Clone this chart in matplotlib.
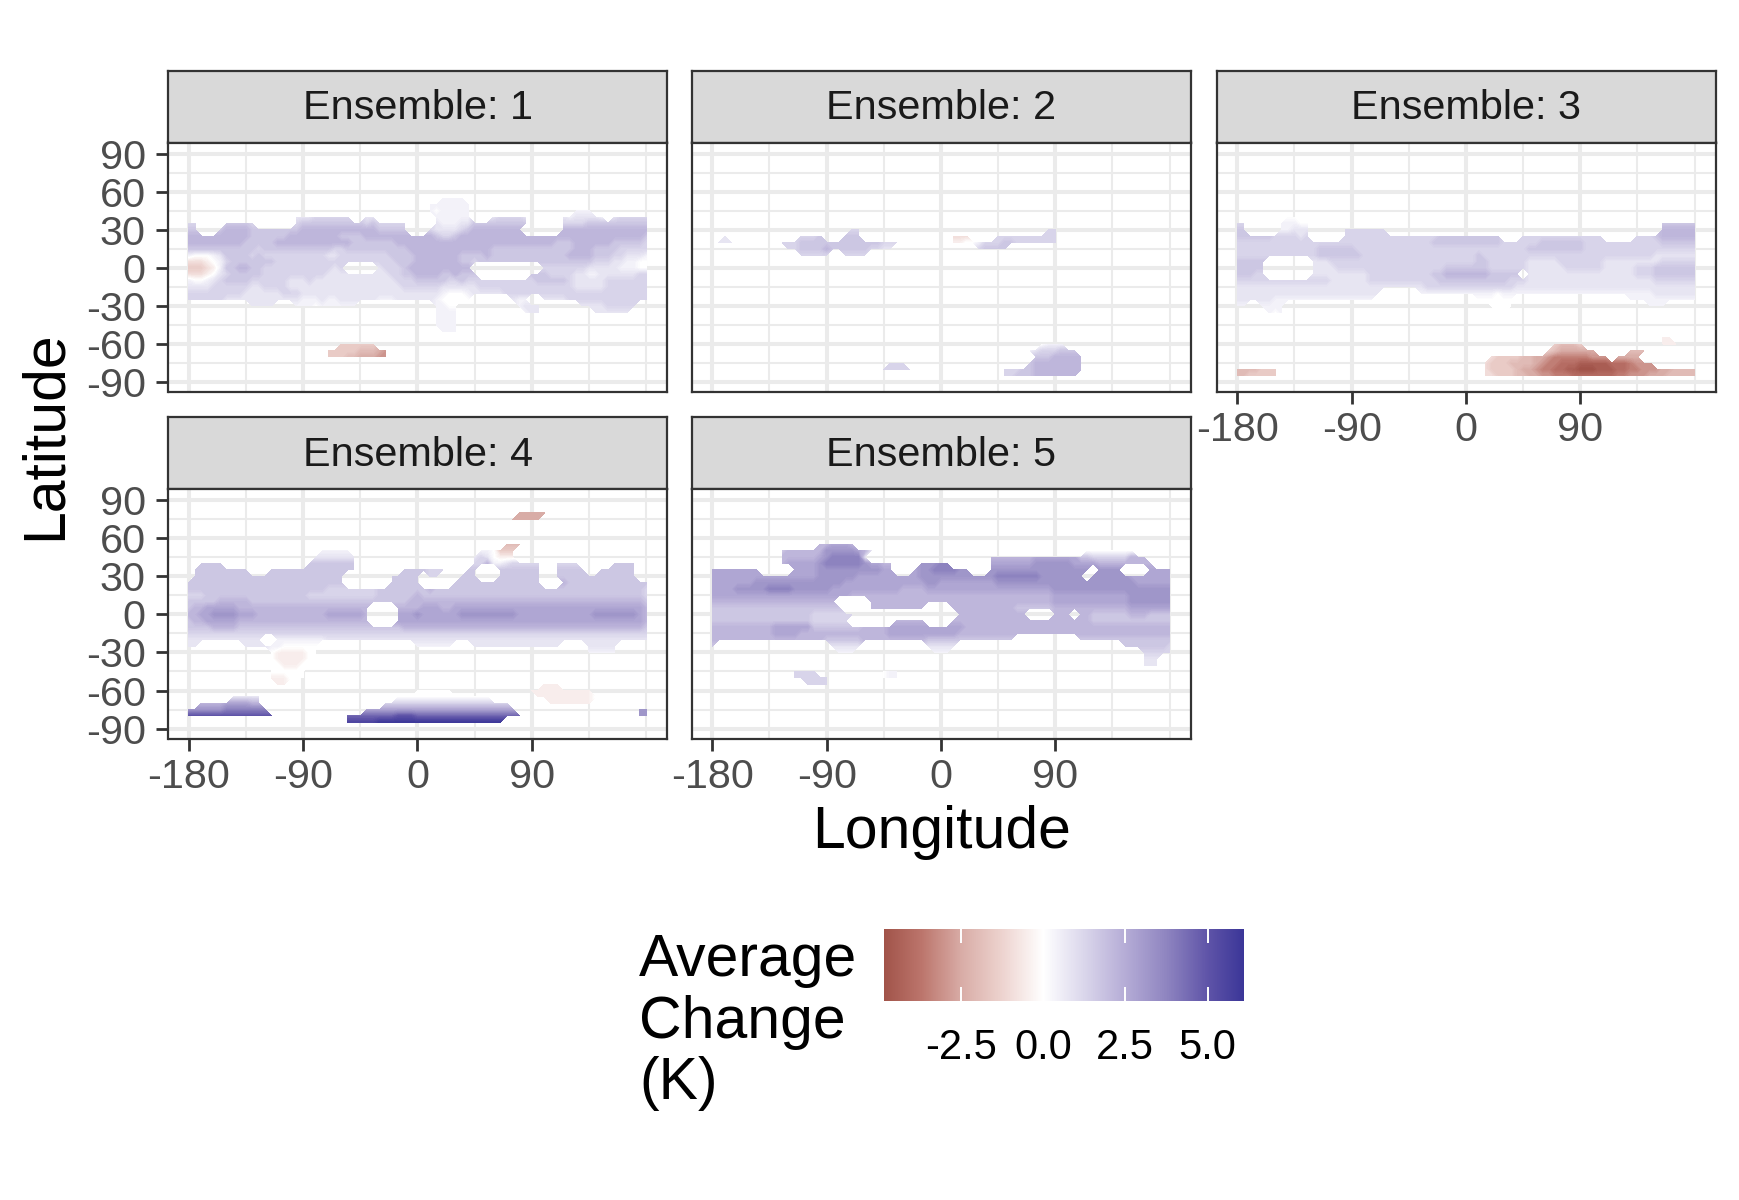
"""Average change maps for five ensemble members."""

import matplotlib
matplotlib.use("Agg")
import matplotlib.pyplot as plt
from matplotlib.cm import ScalarMappable
from matplotlib.colors import LinearSegmentedColormap, Normalize
import numpy as np

plt.rcParams["font.family"] = ["Liberation Sans", "DejaVu Sans"]

# Grid nodes every 5 degrees. Each row below is one latitude, 73 characters from
# -180 to 180 (spaces only group 30 degrees), "." means no value.
# LEVEL_VALUES gives the value in K for each character of LEVEL_CHARS.
LEVEL_CHARS = "jihgfedcba0123456789ABC"
LEVEL_VALUES = [-5.0, -4.5, -4.0, -3.5, -3.0, -2.5, -2.0, -1.5, -1.0, -0.5,
                0.0, 0.4, 0.8, 1.25, 1.7, 2.2, 2.7, 3.2, 3.8, 4.5, 5.0, 5.5, 6.0]
LONS = np.arange(-180, 185, 5)
LATS = np.arange(-90, 95, 5)

ENSEMBLE_1 = {
    55: "...... ...... ...... ...... ...... ...... ....11 11",
    50: "...... ...... ...... ...... ...... ...... ..1111 111",
    45: "...... ...... ...... ...... ...... ...... ..1011 111... ...... ...... .111",
    40: "...... ...... .....2 223333 33..22 ...... ...111 111... 233332 .....2 122221 .23333 3",
    35: "33.... 44443. .....3 444444 444434 33333. ...211 122444 444444 .....3 333444 444444 4",
    30: "44...4 555544 444444 555555 555555 44444. ..3222 234555 55555. .....5 555555 555555 5",
    25: "555555 555544 444455 555555 444455 555555 555433 455555 555555 555555 555555 555555 4",
    20: "555555 555444 445555 555555 554444 444555 555555 555555 555555 555544 455555 544444 3",
    15: "444444 444443 444444 444443 344444 444445 555555 555555 444444 444444 455544 443333 3",
    10: "100012 444434 333333 333322 333333 334444 555555 544445 444444 444444 555544 433222 1",
    5: "bbba01 344444 443333 333333 333333 333444 555555 544344 444444 444444 444433 322110 0",
    0: "cccba1 445544 333333 333332 3..... 233345 555555 555... ...... ..3333 333222 221110 0",
    -5: "bbba02 344444 333333 333322 222222 223344 555544 5444.. ...... 444333 322112 222223 3",
    -10: "100123 444433 333322 232222 222222 222333 444443 343333 333333 344444 322222 333333 3",
    -15: "222233 333322 333322 222222 222222 222233 333322 222233 333333 333333 322222 333333 3",
    -20: "333333 333222 222333 222222 222222 222222 222210 001222 223333 333333 333333 333333 3",
    -25: "333333 222222 222222 111211 222222 111222 222100 000... ...211 ..2222 333333 333333 3",
    -30: "...... ....22 22...1 110111 111... ...... ...110 0..... ....12 22.... ..2222 33333.",
    -35: "...... ...... ...... ...... ...... ...... ...111 1..... .....1 22.... ....22 2222",
    -40: "...... ...... ...... ...... ...... ...... ...111 1",
    -45: "...... ...... ...... ...... ...... ...... ...111 1",
    -50: "...... ...... ...... ...... ...... ...... ....11 1",
    -60: "...... ...... ...... ...... cccccc",
    -65: "...... ...... ...... ....cc cccddd ef",
    -70: "...... ...... ...... ....cc cddeee ff",
}

ENSEMBLE_2 = {
    30: "...... ..0... ...... ....33 ...... ...... ...... ...... .....3 3",
    25: "..2... ..0... ..3334 ...444 ...... ...... ..bbb. ...333 333333 3",
    20: ".222.. .....3 334444 444444 444333 22.... ..aa00 133344 333333 3..... ...33",
    15: "...... ...... 334444 544444 43322. ...... ...... 34444.",
    10: "...... ...... ..3333 3..333 3",
    -60: "...... ...... ...... ...... ...... ...... ...... ...... ....01 11",
    -65: "...... ...... ...... ...... ...... ...... ...... .....0 001233 3444",
    -70: "...... ...... ...... ...... ...... ...... ...... ...... ...444 55555",
    -75: "...... ...... ...... ...... ....33 3..... ...... ...... ..4555 55555",
    -80: "...... ...... ...... ...... ...333 33.... ...... ....33 344555 55555",
    -85: "...... ...... ...... ...... ...... ...... ...... ....33 444555 5555",
}

ENSEMBLE_3 = {
    40: "...... ..0000 0",
    35: "33.... .11100 ...... ...... ...... ...... ...... ...... ...... ...... ...... .44444 4",
    30: "44.... .11222 .....3 333333 ...... ...... ...... ...... ...... ...... ...... .55555 5",
    25: "444444 333323 .....3 333333 333333 334444 444444 ...333 333333 3333.. ...333 455555 5",
    20: "333333 333333 333333 333333 333333 344444 444444 333333 444444 433333 333333 344444 4",
    15: "333333 333333 344444 433333 333333 333333 333333 333344 444444 433333 333333 333333 3",
    10: "333333 333333 344444 443333 333333 333333 334333 333333 333333 333333 333333 222222 2",
    5: "44444. ...... 222333 333333 333333 333333 334433 333322 222333 333322 222222 233333 3",
    0: "44444. ...... 222233 333333 333333 333444 444433 333322 222233 333322 222333 444444 4",
    -5: "44433. ...... 222222 222333 333333 344555 555544 444.22 222222 222222 222333 444444 4",
    -10: "333333 333333 333222 222333 333333 334444 444444 433322 222222 222222 222222 333333 3",
    -15: "222222 222222 222222 222222 222222 333333 333333 332222 222222 222222 222222 222222 2",
    -20: "222222 222222 222222 22222. .....1 111111 111110 111111 111111 111111 111111 222222 2",
    -25: "222222 111111 111111 1111.. ...... ...... ..0000 00.... ...... ...... ..1111 111111 1",
    -30: "11..11 11.... ...... ...... ...... ...... ....00 00.... ...... ...... .....1 11",
    -35: ".....1 01.... ...... ...... ...... ...... .....0 0",
    -55: "...... ...... ...... ...... ...... ...... ...... ...... ...... ...... ...... .aa",
    -60: "...... ...... ...... ...... ...... ...... ...... ...... ..cddd c..... ...... .aaaaa a",
    -65: "...... ...... ...... ...... ...... ...... ...... ...... .cdeee eee... ..dddd",
    -70: "...... ...... ...... ...... ...... ...... ....bc cccdde efggg gggfff .eeee.",
    -75: "...... ...... ...... ...... ...... ...... ...bcc cdddde fgghhh iiiiih hhgfff",
    -80: "ddddcc c..... ...... ...... ...... ...... ...bcc ccdeef gghhii jjjiii hhggff feeddd d",
    -85: "ddcccc c..... ...... ...... ...... ...... ...bbc ccddee ffgggh hhhhhh ggfffe eedddd d",
}

ENSEMBLE_4 = {
    80: "...... ...... ...... ...... ...... ...... ...... ...... ....ee eeeeee",
    75: "...... ...... ...... ...... ...... ...... ...... ...... ...eee ee",
    55: "...... ...... ...... ...... ...... ...... ...... ...... ..ddd",
    50: "...... ...... ...... ...111 11.... ...... ...... ....11 0ccc",
    45: "...... ...... ...... ..2222 222... ...... ...... ...232 0aaa",
    40: "..4444 ...... ...... .44444 444... ...... ...... ...335 112333 33..33 33.... .4444.",
    35: ".44444 4444.. .44444 444444 444... ....44 44333. ..44.. .44444 44..44 444..4 44444.",
    30: ".44444 444444 444444 444444 4..... ..4444 4.33.. .444.. .44444 44..44 444444 44444.",
    25: "444444 444444 444444 444444 4..... ..4444 4..... 444444 444444 44...5 444444 444444 4",
    20: "444444 444444 444444 444433 333333 444444 445444 444444 444444 444444 444444 444444 3",
    15: "333444 444444 444444 433333 333333 444444 544444 444444 444444 444444 444444 444444 3",
    10: "444445 555544 444444 444444 444444 444445 555555 555555 555555 555555 555555 555555 4",
    5: "455666 665555 555555 555555 55555. ...555 566655 666666 666666 666666 666666 666666 5",
    0: "556677 776665 555555 555566 66665. ...666 766666 677777 777766 666666 666677 777776 5",
    -5: "455666 665555 555555 555555 55555. ...666 666666 666666 666666 666666 666666 666666 5",
    -10: "444455 554444 444444 444444 444444 444455 555555 555555 555555 555555 555555 555555 4",
    -15: "333333 333333 333333 333333 333333 333333 333333 333333 333333 333333 333333 333333 3",
    -20: "222222 222222 ..1111 111122 222222 222222 222222 222222 222222 222222 222222 222222 2",
    -25: "22.... ...222 211000 000... ...... ...... 111111 ...222 222222 22222. ...222 22",
    -30: "...... ...... .0aaaa a00... ...... ...... ...... ...... ...... ...... ...111 11",
    -35: "...... ...... .0aaaa a00",
    -40: "...... ...... .00aaa 00",
    -45: "...... ...... .00000 0",
    -50: "...... ...... .aaa00 0",
    -55: "...... ...... ..aa.. ...... ...... ...... ...... ...... ...... ..aaa",
    -60: "...... ...... ...... ...... ...... ...... 000000 ...... ....00 aaaaaa aaaa",
    -65: "...... .22222 ...... ...... ...... ...000 000000 000000 ...... .aaaaa aaaa0",
    -70: "..5555 666655 ...... ...... ...... .33333 333333 333333 333... ...aaa aaaa",
    -75: "777777 888888 8..... ...... ....66 666666 666666 666666 6666.. ...... ...... .....7 7",
    -80: "AAAAAA AAAAAA AA.... ...... .99999 999AAA 999999 999999 99999. ...... ...... .....7 7",
    -85: "...... ...... ...... ...... .BBBBB CCCCCC CCCCCC CCCCCC CC",
}

ENSEMBLE_5 = {
    55: "...... ...... .....5 56665",
    50: "...... .....4 555555 777776 52.... ...... ...... ...... ...... .....0 000000 0",
    45: "...... .....5 555556 788888 2..... ...... ...... ..5555 555666 666644 333333 555",
    40: "...... .....5 666667 888888 76655. ...777 88.... ..6666 666777 777666 655555 5555",
    35: "666666 66.... .66667 777777 77766. ..6778 88877. ..7777 777777 777777 .7777. ...666 6",
    30: "666666 666666 666667 777776 666666 666777 777777 777888 888877 77777. 777777 666666 6",
    25: "666666 677777 777777 777666 666666 666677 666666 666777 777777 777777 777777 766666 6",
    20: "666677 777888 877777 766666 666666 555566 666666 666666 666666 777777 777777 777777 7",
    15: "666666 666666 666666 666655 555555 555555 555555 555555 555555 666666 666666 777777 7",
    10: "555555 555555 555555 55.... .55555 555555 555555 555555 555555 666666 666666 777777 7",
    5: "444444 444444 444444 444... .55555 5555.. ..5555 555555 444444 555555 555555 666666 6",
    0: "444444 444444 444433 33333. ...... ...... ...555 555555 55.... 555.55 444444 555444 4",
    -5: "444444 444444 444433 3333.. .....5 5555.. ..5555 555555 555555 555555 444444 444444 4",
    -10: "555555 555566 666644 444444 555566 666666 666655 555555 555555 555555 555555 555555 5",
    -15: "555555 555566 665555 555555 555566 666666 666555 555555 555555 555555 555555 555555 5",
    -20: "555555 555555 555555 444444 555555 555544 444444 444444 ...... ....44 444444 444444 4",
    -25: "4..... ...... ...... .22222 ...... ....22 222... ...... ...... ...... .....4 444444 3",
    -30: "...... ...... ...... ..111. ...... .....1 11.... ...... ...... ...... ...... ..3333 3",
    -35: "...... ...... ...... ...... ...... ...... ...... ...... ...... ...... ...... ..222.",
    -40: "...... ...... ...... ...... ...... ...... ...... ...... ...... ...... ...... ..222.",
    -45: "...... ...... .3333. ...... ...011",
    -50: "...... ...... .33333 3..... ...011",
    -55: "...... ...... ...333 3",
}

PANELS = [ENSEMBLE_1, ENSEMBLE_2, ENSEMBLE_3, ENSEMBLE_4, ENSEMBLE_5]
PANEL_TITLES = ["Ensemble: 1", "Ensemble: 2", "Ensemble: 3", "Ensemble: 4", "Ensemble: 5"]

LON_TICKS = [-180, -90, 0, 90]
LAT_TICKS = [90, 60, 30, 0, -30, -60, -90]
LON_MINOR = [-135, -45, 45, 135, 180]
LAT_MINOR = [75, 45, 15, -15, -45, -75]

SCALE_VALUES = [-4.86, -3.7, -2.5, -1.25, 0, 1.25, 2.5, 3.75, 5, 6.11]
SCALE_COLORS = ["#A15349", "#BC756C", "#D8ACA6", "#EDD3CF", "#FFFFFF",
                "#DAD6EB", "#B5ACD6", "#8F85C0", "#5F54A8", "#3B3698"]
LEGEND_TICKS = [-2.5, 0.0, 2.5, 5.0]

W, H = 1740, 1200
PANEL_LEFT = [168.5, 692, 1217]
PANEL_WIDTH = 499
ROW_TOP = [142.5, 489]
PANEL_HEIGHT = 249.5
STRIP_HEIGHT = 72


def decode(rows):
    grid = np.full((len(LATS), len(LONS)), np.nan)
    for lat, row in rows.items():
        cells = row.replace(" ", "").ljust(len(LONS), ".")[:len(LONS)]
        i = (lat + 90) // 5
        for j, ch in enumerate(cells):
            if ch != ".":
                grid[i, j] = LEVEL_VALUES[LEVEL_CHARS.index(ch)]
    return grid


def px_axes(fig, left, top, width, height):
    return fig.add_axes([left / W, 1 - (top + height) / H, width / W, height / H])


span = SCALE_VALUES[-1] - SCALE_VALUES[0]
cmap = LinearSegmentedColormap.from_list(
    "change", [((v - SCALE_VALUES[0]) / span, c) for v, c in zip(SCALE_VALUES, SCALE_COLORS)], N=512)
norm = Normalize(SCALE_VALUES[0], SCALE_VALUES[-1])
levels = np.arange(-5.05, 6.15, 0.1)

fig = plt.figure(figsize=(W / 100, H / 100), dpi=100)

for n, rows in enumerate(PANELS):
    col, row = n % 3, n // 3
    left, top = PANEL_LEFT[col], ROW_TOP[row]

    strip = px_axes(fig, left, top - STRIP_HEIGHT, PANEL_WIDTH, STRIP_HEIGHT)
    strip.set_facecolor("#D9D9D9")
    strip.set_xticks([])
    strip.set_yticks([])
    for s in strip.spines.values():
        s.set_color("#333333")
        s.set_linewidth(1.6)
    strip.text(0.5, 0.53, PANEL_TITLES[n], transform=strip.transAxes, ha="center", va="center_baseline",
               fontsize=29.8, color="#1A1A1A")

    ax = px_axes(fig, left, top, PANEL_WIDTH, PANEL_HEIGHT)
    ax.set_axisbelow(True)
    ax.set_xticks(LON_TICKS)
    ax.set_yticks(LAT_TICKS)
    ax.set_xticks(LON_MINOR, minor=True)
    ax.set_yticks(LAT_MINOR, minor=True)
    ax.grid(True, which="major", color="#EBEBEB", lw=2.9)
    ax.grid(True, which="minor", color="#EBEBEB", lw=1.45)
    ax.tick_params(which="minor", length=0)
    ax.tick_params(which="major", length=8.8, width=2.0, color="#333333", labelcolor="#4D4D4D",
                   labelsize=29.8, pad=5.2)
    ax.tick_params(axis="y", which="major", pad=7.5)

    ax.contourf(LONS, LATS, decode(rows), levels=levels, cmap=cmap, norm=norm, extend="both", zorder=2)

    ax.set_xlim(-196, 196.8)
    ax.set_ylim(-97.8, 98.8)
    for s in ax.spines.values():
        s.set_color("#333333")
        s.set_linewidth(1.6)
        s.set_zorder(5)

    # x axis only under the lowest panel of a column, y axis only in the first column
    ax.tick_params(labelbottom=n >= 2, bottom=n >= 2, labelleft=col == 0, left=col == 0)
    ax.set_xticklabels([str(t) for t in LON_TICKS])
    ax.set_yticklabels([str(t) for t in LAT_TICKS])

fig.text(45 / W, 1 - 435.5 / H, "Latitude", rotation=90, ha="center", va="center", fontsize=42.4)
fig.text(942 / W, 1 - 833 / H, "Longitude", ha="center", va="center", fontsize=42.4)
fig.text(639 / W, 1 - 1022 / H, "Average\nChange\n(K)", ha="left", va="center", fontsize=42.4, linespacing=1.16)

# Legend
cax = px_axes(fig, 883.5, 929, 360.5, 72)
cb = fig.colorbar(ScalarMappable(norm=norm, cmap=cmap), cax=cax, orientation="horizontal")
cb.outline.set_visible(False)
cb.set_ticks(LEGEND_TICKS, labels=[f"{t:.1f}" for t in LEGEND_TICKS])
cax.tick_params(length=0, labelsize=30, pad=19.2, colors="black")
cax.vlines(LEGEND_TICKS, 0, 0.2, colors="white", lw=1.4)
cax.vlines(LEGEND_TICKS, 0.8, 1, colors="white", lw=1.4)

fig.savefig("out.png", dpi=100)
